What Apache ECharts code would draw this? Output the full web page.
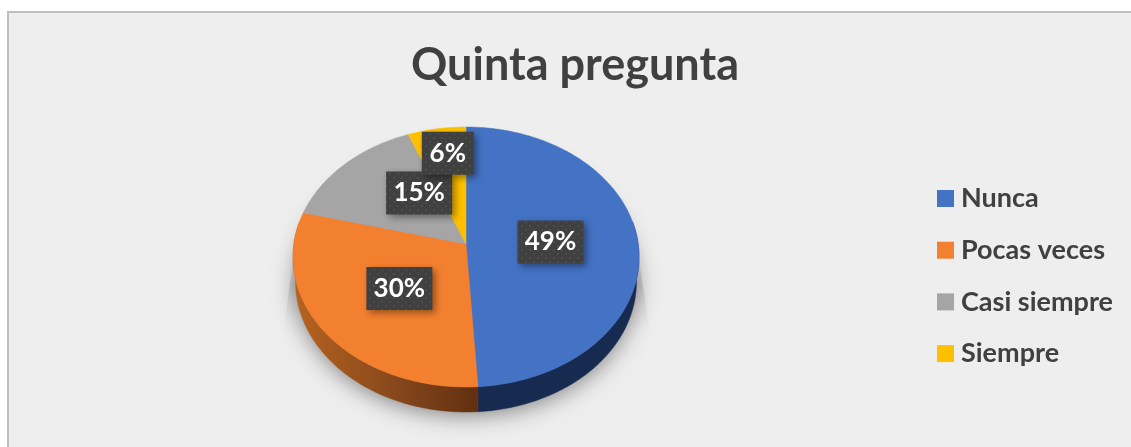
<!DOCTYPE html>
<html>
<head>
<meta charset="utf-8">
<style>
  html, body { margin: 0; padding: 0; background: #fff; }
  #chart { width: 1131px; height: 447px; }
</style>
<script src="https://cdn.jsdelivr.net/npm/echarts@6/dist/echarts.min.js"></script>
</head>
<body>
<div id="chart"></div>
<script>
const categories = ["Nunca", "Pocas veces", "Casi siempre", "Siempre"];
const values = [49, 30, 15, 6];
const colors = ["#4472c4", "#f3802f", "#a5a5a5", "#ffc000"];

// geometria de la elipse (pie inclinado, el vertice no cae en el centro)
const cx = 466, cy = 257, rx = 173, ry = 130, apexY = 244, depth = 25, wallScale = 0.985;
// ajuste de cada etiqueta respecto a su sitio dentro del sector
const labelNudge = [[-2, 0], [0, 3], [18, -8], [-2, -27]];
const labelWidth = [66, 66, 66, 52];
const FONT = "Lato, 'Open Sans', sans-serif";

const total = values.reduce((a, b) => a + b, 0);
const starts = [];
values.reduce((acc, v, i) => { starts[i] = acc; return acc + v / total * 360; }, 0);

// rayo desde el vertice hasta el borde de la elipse
const edgePoint = (deg) => {
  const a = deg * Math.PI / 180;
  const dx = Math.sin(a) / rx;
  const dy = -Math.cos(a) * (ry / rx) / ry;
  const off = (apexY - cy) / ry;
  const A = dx * dx + dy * dy;
  const B = 2 * dy * off;
  const C = off * off - 1;
  const t = (-B + Math.sqrt(B * B - 4 * A * C)) / (2 * A);
  return [t * Math.sin(a), apexY - t * Math.cos(a) * (ry / rx)];
};
const arc = (from, to, isWall) => {
  const pts = [];
  const n = Math.max(2, Math.ceil(to - from));
  for (let i = 0; i <= n; i++) {
    const p = edgePoint(from + (to - from) * i / n);
    pts.push(isWall ? [cx + p[0] * wallScale, p[1] + depth] : [cx + p[0], p[1]]);
  }
  return pts;
};

// patron de puntos de las cajas de etiqueta
const dots = document.createElement("canvas");
dots.width = dots.height = 8;
const dc = dots.getContext("2d");
dc.fillStyle = "#404040";
dc.fillRect(0, 0, 8, 8);
dc.fillStyle = "#4c4c4c";
dc.fillRect(1, 1, 2, 2);
dc.fillRect(5, 5, 2, 2);

const sliceSeries = categories.map((name, idx) => ({
  name,
  type: "custom",
  coordinateSystem: "none",
  silent: true,
  z: 3,
  itemStyle: { color: colors[idx] },
  data: [[values[idx]]],
  renderItem: (params, api) => {
    const from = starts[idx];
    const to = from + api.value(0) / total * 360;
    const children = [];
    // pared lateral, solo la mitad de abajo
    const wFrom = Math.max(from, 80), wTo = Math.min(to, 280);
    if (wTo > wFrom) {
      const wall = idx === 1
        ? new echarts.graphic.LinearGradient(cx - rx, 0, cx + 18, 0, [
            { offset: 0, color: "#b8631f" },
            { offset: 0.5, color: "#8a4a1c" },
            { offset: 1, color: "#5e2e0f" },
          ], true)
        : "#172b50";
      children.push({
        type: "polygon",
        shape: { points: arc(wFrom, wTo, false).concat(arc(wFrom, wTo, true).reverse()) },
        style: { fill: wall, stroke: wall, lineWidth: 0.5 },
      });
    }
    children.push({
      type: "polygon",
      shape: { points: [[cx, apexY]].concat(arc(from, to, false)) },
      style: { fill: colors[idx], stroke: colors[idx], lineWidth: 0.5 },
    });
    return { type: "group", children };
  },
}));

const labelSeries = {
  name: "etiquetas",
  type: "custom",
  coordinateSystem: "none",
  silent: true,
  z: 5,
  data: values.map((v, i) => [v, i]),
  renderItem: (params, api) => {
    const i = api.value(1);
    const v = api.value(0);
    const mid = (starts[i] + v / total * 180) * Math.PI / 180;
    const x = cx + rx * 0.5 * Math.sin(mid) + labelNudge[i][0];
    const y = apexY - ry * 0.5 * Math.cos(mid) + labelNudge[i][1];
    const w = labelWidth[i], h = 43;
    return {
      type: "group",
      children: [
        {
          type: "rect",
          shape: { x: x - w / 2, y: y - h / 2, width: w, height: h },
          style: {
            fill: { image: dots, repeat: "repeat" },
            shadowBlur: 7,
            shadowOffsetX: 3,
            shadowOffsetY: 3,
            shadowColor: "rgba(0,0,0,0.4)",
          },
        },
        {
          type: "text",
          style: {
            x, y,
            text: Math.round(v / total * 100) + "%",
            fill: "#fff",
            font: "bold 26px " + FONT,
            align: "center",
            verticalAlign: "middle",
          },
        },
      ],
    };
  },
};

const chart = echarts.init(document.getElementById("chart"), null, { renderer: "canvas" });
chart.setOption({
  animation: false,
  backgroundColor: "#fff",
  title: {
    text: "Quinta pregunta",
    left: 570,
    top: 38,
    textAlign: "center",
    textStyle: { color: "#404040", fontSize: 45, fontWeight: "bold", fontFamily: FONT },
  },
  legend: {
    data: categories,
    orient: "vertical",
    left: 932,
    top: 180,
    icon: "rect",
    itemWidth: 17,
    itemHeight: 17,
    itemGap: 24.7,
    textStyle: { color: "#404040", fontSize: 27, fontWeight: "bold", fontFamily: FONT, padding: [0, 0, 0, 2] },
    selectedMode: false,
  },
  graphic: [
    {
      type: "rect",
      z: -10,
      silent: true,
      shape: { x: 8, y: 12, width: 1300, height: 600 },
      style: { fill: "#eeeeee", stroke: "#bfbfbf", lineWidth: 2 },
    },
    {
      // cuna de sombra a los lados del pie
      type: "polygon",
      z: 1,
      silent: true,
      shape: { points: [[298, 225], [634, 225], [650, 335], [283, 335]] },
      style: {
        fill: new echarts.graphic.LinearGradient(0, 0, 0, 1, [
          { offset: 0, color: "rgba(200,200,200,0)" },
          { offset: 0.55, color: "rgba(200,200,200,0.8)" },
          { offset: 1, color: "rgba(225,225,225,0)" },
        ]),
        shadowBlur: 6,
        shadowColor: "rgba(238,238,238,1)",
      },
    },
    {
      // sombra difusa bajo la pared
      type: "ellipse",
      z: 2,
      silent: true,
      shape: { cx, cy: cy + depth, rx: rx - 4, ry },
      style: {
        fill: "#999999",
        shadowBlur: 24,
        shadowOffsetY: 2,
        shadowColor: "rgba(0,0,0,0.5)",
      },
    },
  ],
  series: sliceSeries.concat([labelSeries]),
});
</script>
</body>
</html>
